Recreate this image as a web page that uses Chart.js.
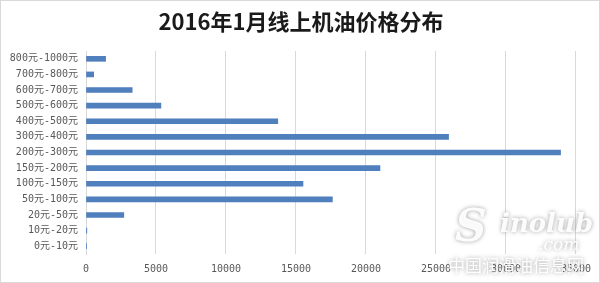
<!DOCTYPE html>
<html><head><meta charset="utf-8">
<script src="https://cdn.jsdelivr.net/npm/chart.js@4/dist/chart.umd.min.js"></script>
<style>html,body{margin:0;padding:0;background:#fff}#wrap{width:600px;height:283px;position:relative}</style>
</head><body><div id="wrap"><canvas id="c" width="600" height="283"></canvas></div>
<script>
const categories = ["800元-1000元","700元-800元","600元-700元","500元-600元","400元-500元","300元-400元","200元-300元","150元-200元","100元-150元","50元-100元","20元-50元","10元-20元","0元-10元"];
const values = [1400, 550, 3300, 5350, 13700, 25900, 33900, 21000, 15500, 17600, 2700, 60, 10];
const xTicks = [0, 5000, 10000, 15000, 20000, 25000, 30000, 35000];
const titleText = "2016年1月线上机油价格分布";

const decor = {
  id: 'decor',
  afterDraw(chart) {
    const ctx = chart.ctx;
    ctx.save();
    ctx.strokeStyle = '#d9d9d9';
    ctx.lineWidth = 1;
    ctx.strokeRect(0.5, 0.5, 599, 282);
    // title
    ctx.fillStyle = '#1a1a1a';
    ctx.font = 'bold 22px "Noto Sans CJK SC"';
    ctx.textAlign = 'center';
    ctx.textBaseline = 'middle';
    ctx.fillText(titleText, 301, 22);
    // watermark
    ctx.textAlign = 'left';
    ctx.textBaseline = 'alphabetic';
    ctx.shadowColor = 'rgba(110,110,110,0.7)';
    ctx.shadowBlur = 4;
    ctx.fillStyle = 'rgba(255,255,255,0.95)';
    ctx.font = 'italic bold 44px "DejaVu Serif"';
    ctx.fillText('S', 455, 241);
    ctx.font = 'italic bold 26px "DejaVu Serif"';
    ctx.fillText('inolub', 500, 232);
    ctx.font = 'italic 17px "DejaVu Serif"';
    ctx.fillText('.com', 538, 250);
    ctx.font = '17px "Noto Sans CJK SC"';
    ctx.textBaseline = 'middle';
    ctx.fillText('中国润滑油信息网', 448, 266);
    ctx.restore();
  }
};

new Chart(document.getElementById('c'), {
  type: 'bar',
  data: { labels: categories, datasets: [{ data: values, backgroundColor: '#4f7fbd', barThickness: 5 }] },
  options: {
    indexAxis: 'y',
    responsive: false,
    animation: false,
    layout: { padding: { left: 0, right: 20, top: 51, bottom: 0 } },
    plugins: {
      legend: { display: false },
      tooltip: { enabled: false },
      title: { display: false }
    },
    scales: {
      x: {
        min: 0, max: 35000,
        afterBuildTicks(s) { s.ticks = xTicks.map(v => ({ value: v })); },
        afterFit(s) { s.height = 29; },
        grid: { color: '#d9d9d9', drawTicks: false },
        border: { display: false },
        ticks: { color: '#595959', padding: 9, maxRotation: 0,
          callback: (v) => String(v),
          font: { family: '"DejaVu Sans Mono"', size: 10 } }
      },
      y: {
        afterFit(s) { s.width = 86; },
        grid: { display: false, drawTicks: false },
        border: { display: true, color: '#d9d9d9' },
        ticks: { color: '#595959', padding: 8, autoSkip: false,
          font: { family: '"DejaVu Sans Mono", "Noto Sans CJK SC"', size: 10 } }
      }
    }
  },
  plugins: [decor]
});
</script></body></html>
